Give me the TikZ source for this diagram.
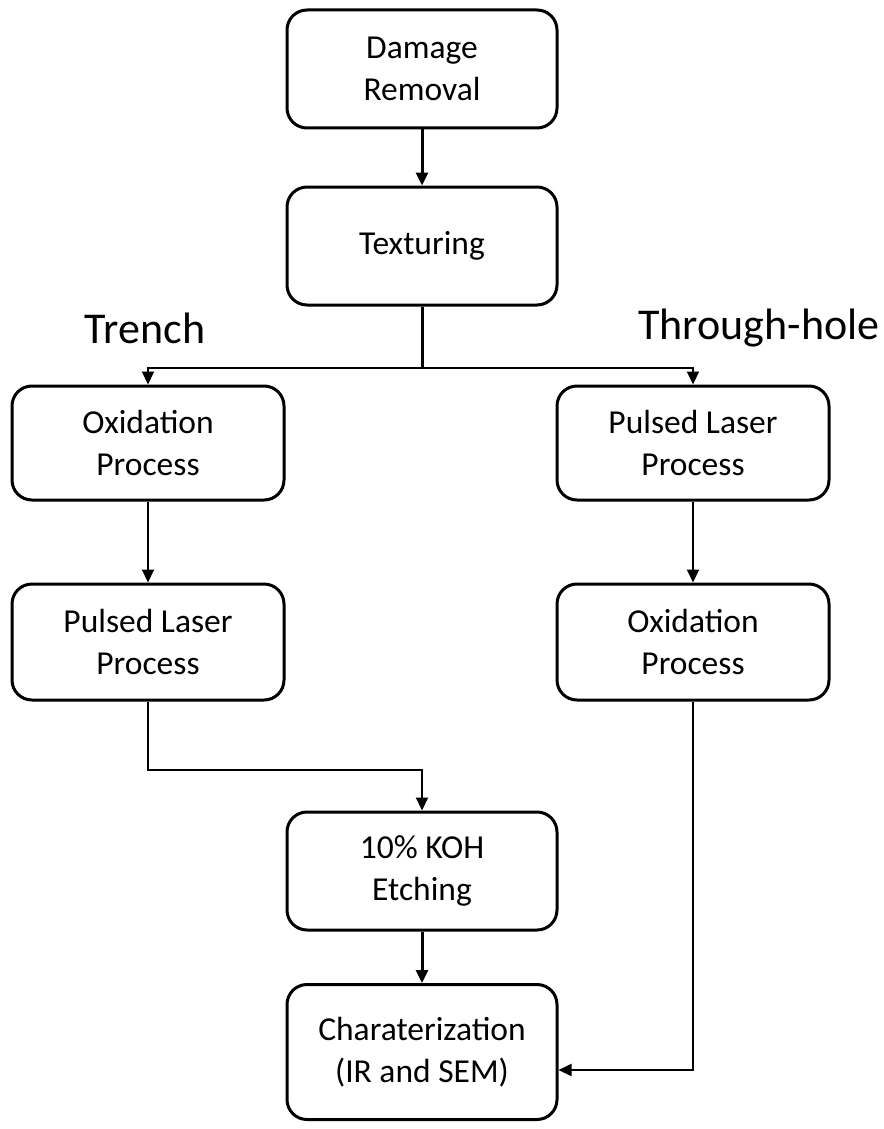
\documentclass[tikz,border=0pt]{standalone}
\usepackage{fontspec}
\setmainfont{Carlito}
\usetikzlibrary{arrows.meta}
\begin{document}
\begin{tikzpicture}[x=1pt,y=-1pt,
  stepbox/.style={draw, line width=3pt, rounded corners=20pt, minimum width=270pt,
    align=center, font=\fontsize{33.5}{42}\selectfont, inner sep=0pt},
  flow/.style={line width=2pt, -{Triangle[length=13pt,width=12pt]}},
  heavy/.style={line width=3pt},
  branch/.style={font=\fontsize{44}{52}\selectfont}]
\useasboundingbox (0,0) rectangle (883,1129);
% process boxes
\node[stepbox, minimum height=118pt] (dr)  at (422,69)   {Damage\\Removal};
\node[stepbox, minimum height=118pt] (tex) at (422,246)  {Texturing};
\node[stepbox, minimum height=114pt, minimum width=272pt] (ox1) at (148,443) {Oxidation\\Process};
\node[stepbox, minimum height=114pt, minimum width=272pt] (pl2) at (693,443) {Pulsed Laser\\Process};
\node[stepbox, minimum height=116pt, minimum width=272pt] (pl1) at (148,642) {Pulsed Laser\\Process};
\node[stepbox, minimum height=116pt, minimum width=272pt] (ox2) at (693,642) {Oxidation\\Process};
\node[stepbox, minimum height=118pt] (koh) at (422,871)  {10\% KOH\\Etching};
\node[stepbox, minimum height=135pt] (chr) at (422,1052) {Charaterization\\(IR and SEM)};
% branch labels
\node[branch] (tr) at (145,328) {Trench};
\node[branch] (th) at (759,328) {Through-hole};
% connectors
\coordinate (split) at (422,368);
\draw[flow, line width=3pt] (dr) -- (tex);
\draw[heavy] (tex) -- (split);
\draw[flow] (split) -| (ox1);
\draw[flow] (split) -| (pl2);
\draw[flow] (ox1) -- (pl1);
\draw[flow] (pl2) -- (ox2);
\draw[flow] (pl1.south) |- (422,770) -- (koh.north);
\draw[flow, line width=3pt] (koh) -- (chr);
\draw[flow] (ox2.south) |- (chr.east |- 0,1070);
\end{tikzpicture}
\end{document}
